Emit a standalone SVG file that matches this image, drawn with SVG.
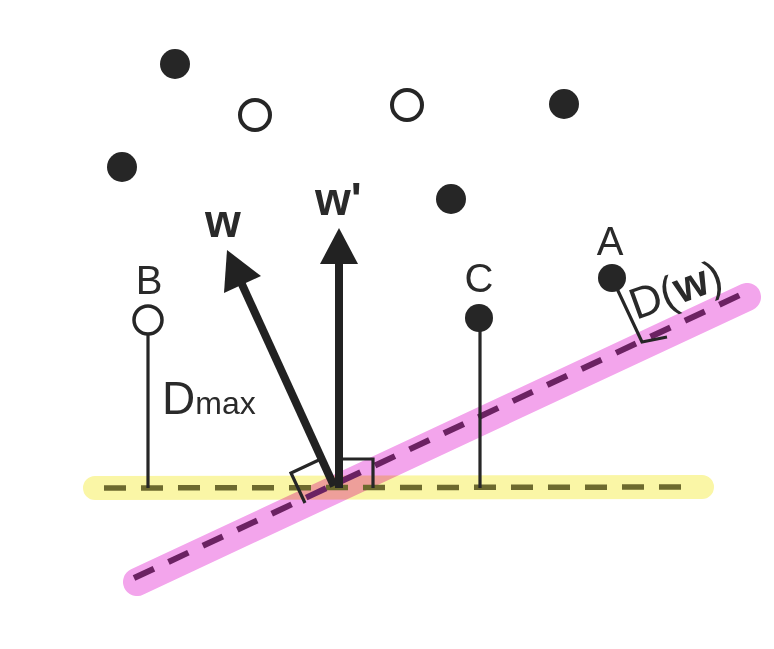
<svg xmlns="http://www.w3.org/2000/svg" width="774" height="649" viewBox="0 0 774 649">
<style>
.lbl{font-family:"Liberation Sans",Arial,sans-serif;fill:#2a2a2a}
.bold{font-weight:bold}
.ln{stroke:#262626;stroke-width:3.2;fill:none}
.dotf{fill:#262626}
.doto{fill:#fff;stroke:#262626;stroke-width:4}
.vec{stroke:#222;stroke-width:8;fill:none}
.head{fill:#222}
</style>
<rect width="774" height="649" fill="#fff"/>
<g id="highlights">
<line x1="95" y1="488" x2="702" y2="487" stroke="#faf6a6" stroke-width="24" stroke-linecap="round"/>
<line x1="137" y1="582" x2="747" y2="297" stroke="#f3a5ec" stroke-width="28" stroke-linecap="round" style="mix-blend-mode:multiply"/>
</g>
<g id="connectors">
<line x1="104" y1="488" x2="686" y2="487" stroke="#6d6a2e" stroke-width="5.5" stroke-dasharray="22 15"/>
<line x1="134" y1="578" x2="740" y2="295" stroke="#6b2262" stroke-width="6" stroke-dasharray="22 16"/>
<line class="ln" x1="148" y1="334" x2="148" y2="488"/>
<line class="ln" x1="480" y1="318" x2="480" y2="488"/>
<polyline class="ln" points="612,278 642,342 667,337"/>
<polyline class="ln" points="339,459 373,459 373,488"/>
<polyline class="ln" points="321,459 291,473 305,503"/>
<line class="vec" x1="334" y1="486" x2="240" y2="280"/>
<polygon class="head" points="227,250 261,276 224,293"/>
<line class="vec" x1="339" y1="488" x2="339" y2="258"/>
<polygon class="head" points="339,228 358,264 320,264"/>
</g>
<g id="dots">
<circle class="dotf" cx="175" cy="64" r="15"/>
<circle class="doto" cx="255" cy="115" r="15"/>
<circle class="doto" cx="407" cy="105" r="15"/>
<circle class="dotf" cx="564" cy="104" r="15"/>
<circle class="dotf" cx="122" cy="167" r="15"/>
<circle class="dotf" cx="451" cy="199" r="15"/>
</g>
<g id="nodeB">
<circle class="doto" cx="148" cy="320" r="14" style="stroke-width:3.5"/>
<text class="lbl" x="149" y="294" font-size="40" text-anchor="middle">B</text>
</g>
<g id="nodeC">
<circle class="dotf" cx="479" cy="318" r="14"/>
<text class="lbl" x="479" y="292" font-size="40" text-anchor="middle">C</text>
</g>
<g id="nodeA">
<circle class="dotf" cx="612" cy="278" r="14"/>
<text class="lbl" x="610" y="255" font-size="40" text-anchor="middle">A</text>
</g>
<g id="labels">
<text class="lbl bold" x="223" y="237" font-size="46" text-anchor="middle">w</text>
<text class="lbl bold" x="315" y="215" font-size="46">w'</text>
<text class="lbl" x="162" y="414" font-size="46">D<tspan font-size="32">max</tspan></text>
<text class="lbl" x="636" y="320" font-size="44" transform="rotate(-20 636 320)">D(<tspan class="bold">w</tspan>)</text>
</g>
</svg>
